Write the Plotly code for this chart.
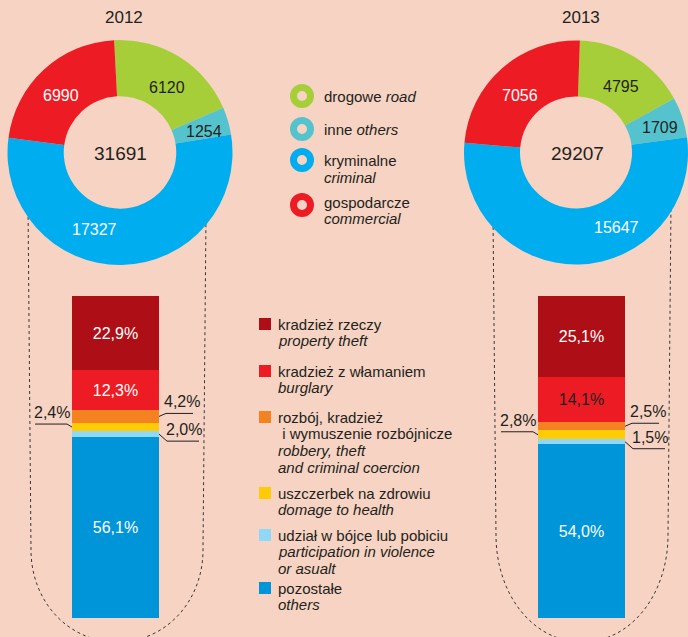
import plotly.graph_objects as go

W, H = 688, 637
BG = '#f6d3c2'
DARK = '#231f20'
FONT = 'Liberation Sans, Arial, sans-serif'

# --- data -----------------------------------------------------------------
years = ['2012', '2013']

pie_pl = ['drogowe', 'inne', 'kryminalne', 'gospodarcze']
pie_en = ['road', 'others', 'criminal', 'commercial']
pie_2012 = [6120, 1254, 17327, 6990]
pie_2013 = [4795, 1709, 15647, 7056]
pie_colors = ['#a6ce39', '#55c3cd', '#00aeef', '#ed1c24']

bar_pl = [['kradzież rzeczy'],
          ['kradzież z włamaniem'],
          ['rozbój, kradzież', '\u00a0i wymuszenie rozbójnicze'],
          ['uszczerbek na zdrowiu'],
          ['udział w bójce lub pobiciu'],
          ['pozostałe']]
bar_en = [['property theft'],
          ['burglary'],
          ['robbery, theft', 'and criminal coercion'],
          ['domage to health'],
          ['participation in violence', 'or asualt'],
          ['others']]
share_2012 = [22.9, 12.3, 4.2, 2.4, 2.0, 56.1]
share_2013 = [25.1, 14.1, 2.5, 2.8, 1.5, 54.0]
bar_colors = ['#ae0f17', '#ed1c24', '#f58220', '#ffcb05', '#8fd8f7', '#0095d9']


def pct(v):
    return f'{v:.1f}'.replace('.', ',') + '%'


fig = go.Figure()

# --- donuts ---------------------------------------------------------------
pie_box = {'2012': (7, 233, -3), '2013': (464, 688, 2)}
for yr, vals in zip(years, [pie_2012, pie_2013]):
    x0, x1, rot = pie_box[yr]
    fig.add_trace(go.Pie(
        values=vals, labels=pie_pl, sort=False, direction='clockwise', rotation=rot,
        hole=0.5, marker=dict(colors=pie_colors, line=dict(width=0)),
        textinfo='none', hoverinfo='skip', showlegend=False,
        domain=dict(x=[x0 / W, x1 / W], y=[1 - 265 / H, 1 - 40 / H])))


def note(x, y, text, size=15, color=DARK, xanchor='center', yanchor='middle'):
    fig.add_annotation(x=x, y=y, xref='x', yref='y', text=text, showarrow=False,
                       font=dict(family=FONT, size=size, color=color),
                       xanchor=xanchor, yanchor=yanchor)


# donut numbers (label spots picked per slice)
spots_2012 = [(167, 87), (204, 131), (94, 229), (61, 95)]
spots_2013 = [(621, 86), (660, 127), (616, 227), (520, 95)]
txt_col = [DARK, DARK, 'white', 'white']
for vals, spots, cx, yr in [(pie_2012, spots_2012, 120, '2012'),
                            (pie_2013, spots_2013, 577, '2013')]:
    for v, (sx, sy), c in zip(vals, spots, txt_col):
        note(sx, sy, str(v), size=16, color=c)
    note(cx, 153, str(sum(vals)), size=19)
    note(cx + 4, 17, yr, size=17)

# top legend: rings + labels
ring_y = [96, 129, 160, 205]
fig.add_trace(go.Scatter(
    x=[302] * 4, y=ring_y, mode='markers', hoverinfo='skip', showlegend=False,
    marker=dict(symbol='circle', size=17, color=BG,
                line=dict(color=pie_colors, width=7)),
    xaxis='x', yaxis='y'))
note(322, 96, f'{pie_pl[0]} <i>{pie_en[0]}</i>', xanchor='left')
note(322, 129, f'{pie_pl[1]} <i>{pie_en[1]}</i>', xanchor='left')
note(322, 160, pie_pl[2], xanchor='left')
note(322, 177, f'<i>{pie_en[2]}</i>', xanchor='left')
note(322, 202, pie_pl[3], xanchor='left')
note(322, 218, f'<i>{pie_en[3]}</i>', xanchor='left')

# --- stacked bars ---------------------------------------------------------
BAR_TOP, BAR_BOT = 296, 618
PX_PER = (BAR_BOT - BAR_TOP) / 100
inside = [True, True, False, False, False, True]
lbl_col = {'2012': ['white', 'white', DARK, DARK, DARK, 'white'],
           '2013': ['white', DARK, DARK, DARK, DARK, 'white']}
for i in reversed(range(len(share_2012))):
    ys = [share_2012[i], share_2013[i]]
    fig.add_trace(go.Bar(
        x=years, y=ys, xaxis='x2', yaxis='y2', width=87 / 466,
        marker=dict(color=bar_colors[i], line=dict(width=0)),
        text=[pct(v) if inside[i] else '' for v in ys],
        textposition='inside', insidetextanchor='middle', textangle=0,
        constraintext='none', cliponaxis=False,
        textfont=dict(family=FONT, size=16,
                      color=[lbl_col['2012'][i], lbl_col['2013'][i]]),
        hoverinfo='skip', showlegend=False))


def seg_mid(shares, i):
    below = sum(shares[i + 1:])
    return BAR_BOT - (below + shares[i] / 2) * PX_PER


def leader(points):
    d = 'M ' + ' L '.join(f'{x},{y}' for x, y in points)
    fig.add_shape(type='path', path=d, xref='x', yref='y',
                  line=dict(color=DARK, width=1))


# callouts for the thin segments: (bar left, bar right)
for shares, bl, br in [(share_2012, 72, 159), (share_2013, 538, 625)]:
    ym = seg_mid(shares, 3)  # yellow, left
    yl = ym - 3
    leader([(bl, ym), (bl - 5, yl), (bl - 37, yl)])
    note(bl - 20, yl - 1, pct(shares[3]), size=16, yanchor='bottom')
    ym = seg_mid(shares, 2)  # orange, right
    yl = ym - 3
    leader([(br, ym), (br + 7, yl), (br + 34, yl)])
    note(br + 23, yl - 1, pct(shares[2]), size=16, yanchor='bottom')
    ym = seg_mid(shares, 4)  # light blue, right
    yl = ym + 7
    leader([(br, ym), (br + 8, yl), (br + 40, yl)])
    note(br + 25, yl - 1, pct(shares[4]), size=16, yanchor='bottom')

# dotted "zoom" outlines round the bars
for xl, xr, ytl, ytr, cy, ry in [(28, 206, 205, 215, 550, 92),
                                 (493, 671, 215, 205, 535, 107)]:
    cx, rx = (xl + xr) / 2, (xr - xl) / 2
    k = 0.5523
    d = (f'M {xl},{ytl} L {xl + 3},{cy} '
         f'C {xl + 3},{cy + k * ry} {cx - k * rx},{cy + ry} {cx},{cy + ry} '
         f'C {cx + k * rx},{cy + ry} {xr - 3},{cy + k * ry} {xr - 3},{cy} '
         f'L {xr},{ytr}')
    fig.add_shape(type='path', path=d, xref='x', yref='y', layer='below',
                  line=dict(color='#3c3636', width=1, dash='dot'))

# bottom legend: squares + lines of text
sq_y = [324, 371, 417, 493, 535, 588]
fig.add_trace(go.Scatter(
    x=[265] * 6, y=sq_y, mode='markers', hoverinfo='skip', showlegend=False,
    marker=dict(symbol='square', size=12, color=bar_colors, line=dict(width=0)),
    xaxis='x', yaxis='y'))
for y0, pl, en in zip(sq_y, bar_pl, bar_en):
    y = y0
    for line in pl:
        note(276, y, line, xanchor='left')
        y += 16.7
    for line in en:
        note(276, y, f'<i>{line}</i>', xanchor='left')
        y += 16.7

fig.update_layout(
    width=W, height=H, margin=dict(l=0, r=0, t=0, b=0),
    paper_bgcolor=BG, plot_bgcolor='rgba(0,0,0,0)',
    barmode='stack', bargap=0, showlegend=False,
    font=dict(family=FONT, color=DARK),
    xaxis=dict(range=[0, W], domain=[0, 1], visible=False, fixedrange=True),
    yaxis=dict(range=[H, 0], domain=[0, 1], visible=False, fixedrange=True),
    xaxis2=dict(type='category', categoryorder='array', categoryarray=years,
                range=[-115.5 / 466, (W - 115.5) / 466], domain=[0, 1],
                anchor='y2', visible=False, fixedrange=True),
    yaxis2=dict(range=[0, 100], domain=[1 - BAR_BOT / H, 1 - BAR_TOP / H],
                anchor='x2', visible=False, fixedrange=True),
)

# the page body has a default 8px margin; drop it so the figure fills the window
fig.write_html('out.html', config={'displayModeBar': False},
               post_script="document.body.style.margin='0';"
                           "document.body.style.overflow='hidden';")
